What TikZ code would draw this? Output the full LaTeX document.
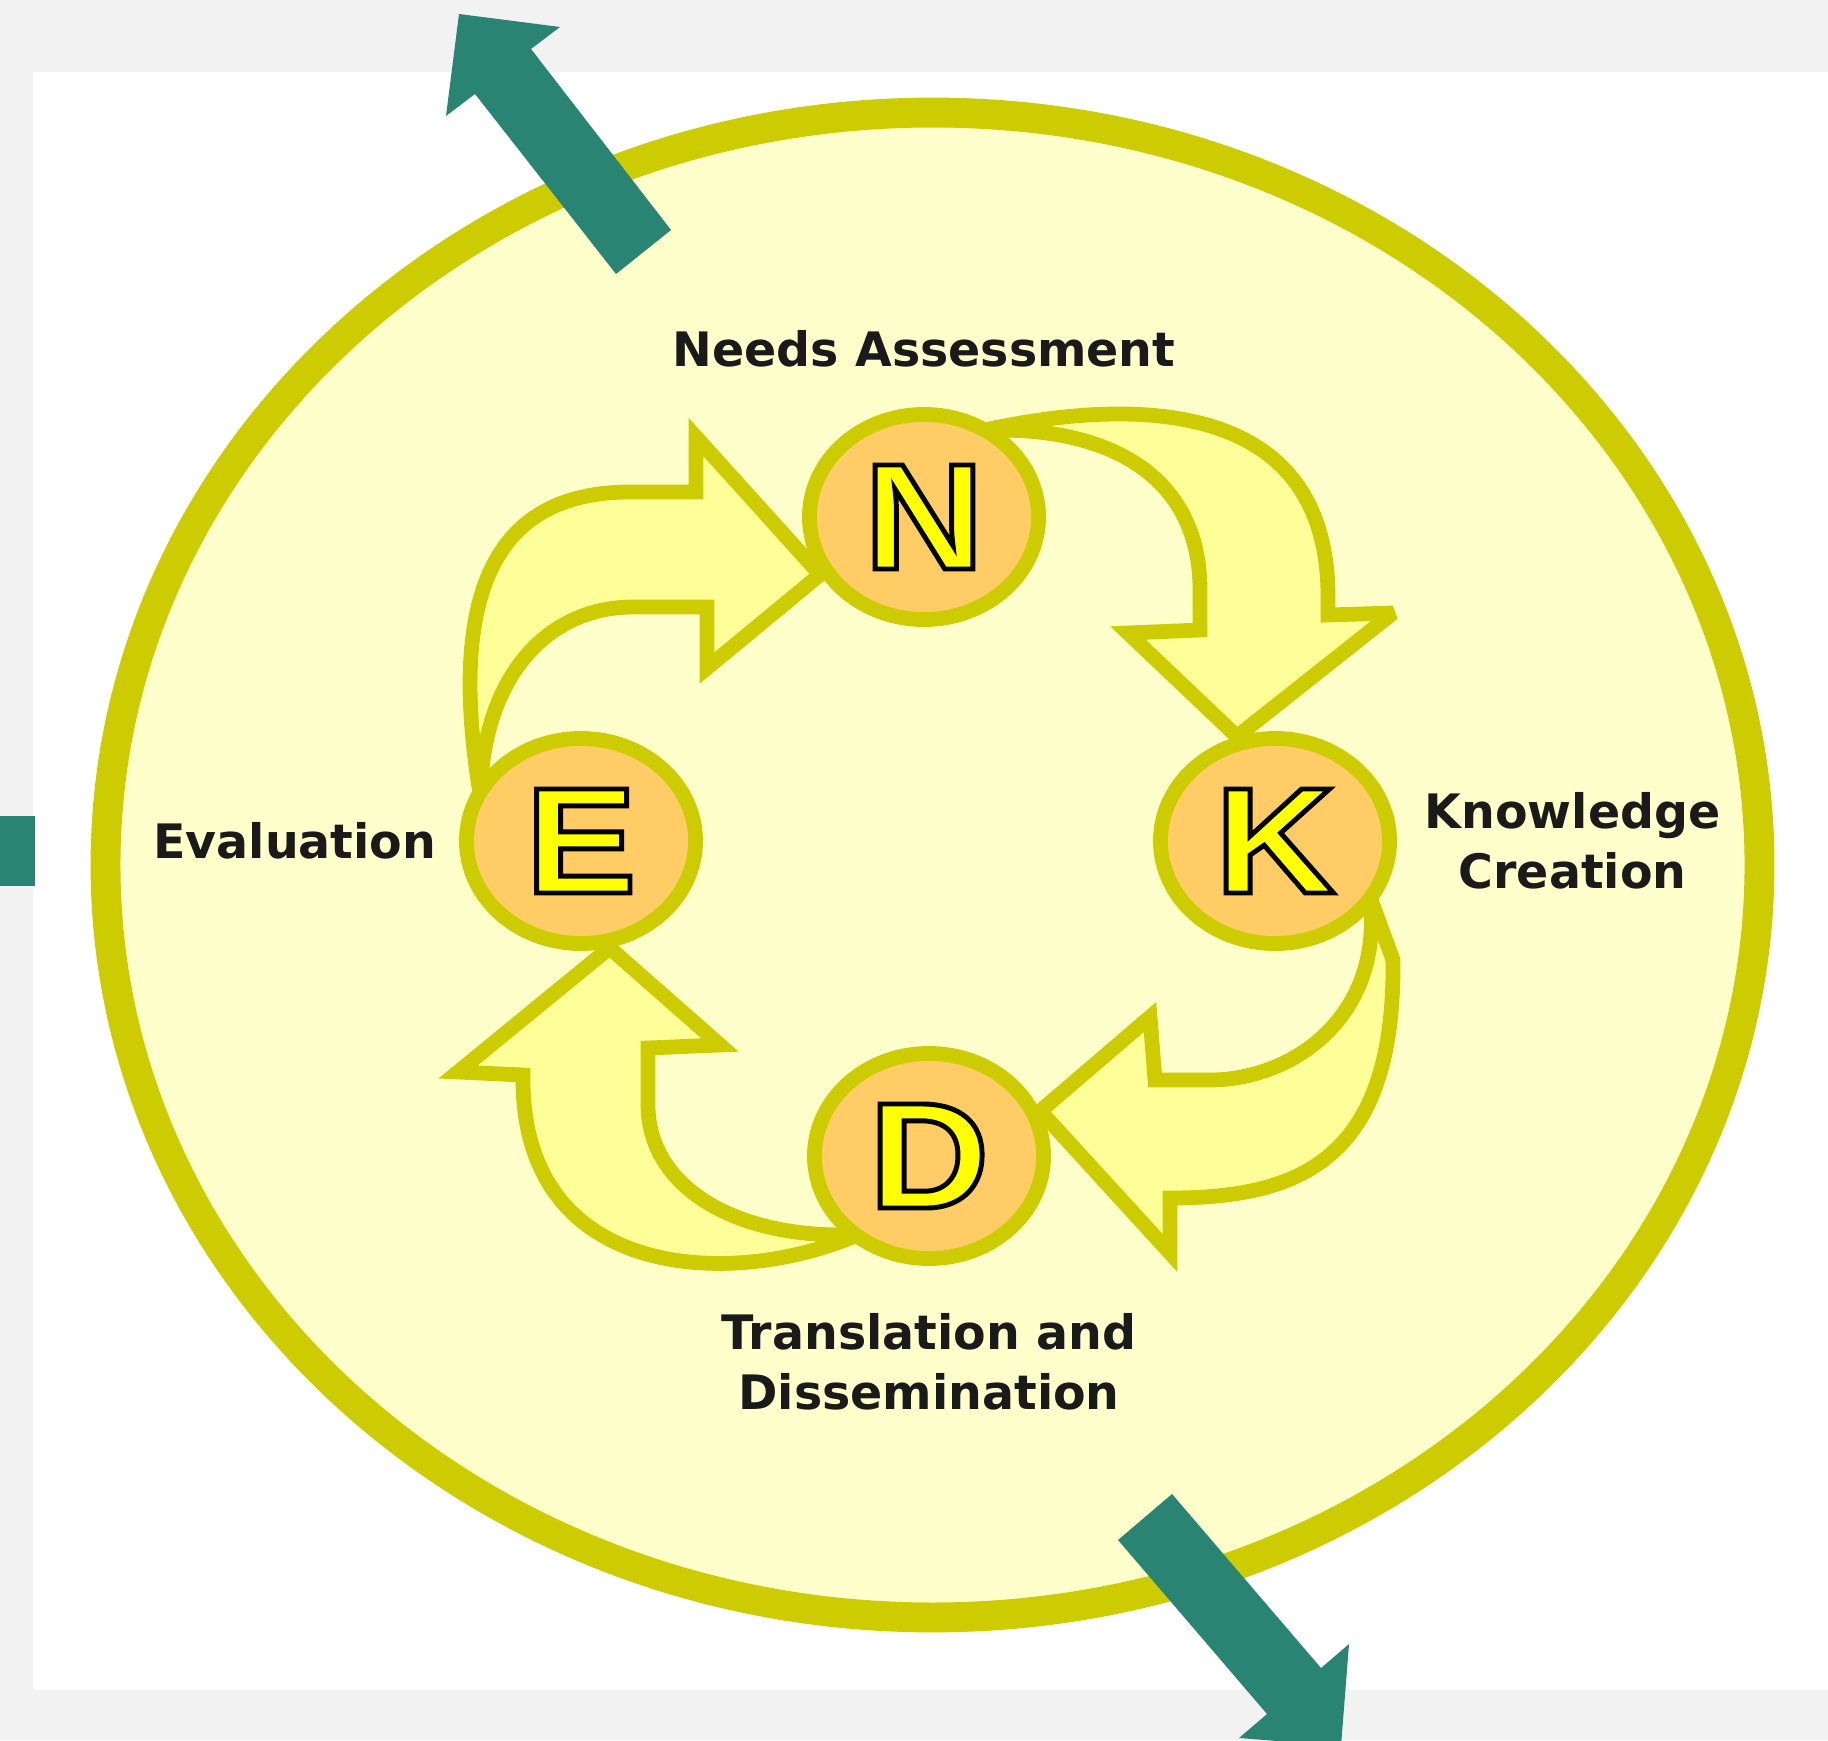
\documentclass[tikz,border=0pt]{standalone}
\usepackage{fontspec}
\setmainfont{DejaVu Sans}
\newfontfamily\letterfont{Liberation Sans}[FakeStretch=1.1]
\usetikzlibrary{shapes.geometric,positioning,calc}

\definecolor{backgray}{HTML}{F2F2F2}
\definecolor{pale}{HTML}{FFFFCC}
\definecolor{rim}{HTML}{CCCC00}
\definecolor{band}{HTML}{FFFF99}
\definecolor{disc}{HTML}{FFCC66}
\definecolor{lettercol}{HTML}{FFFF00}
\definecolor{ink}{HTML}{1A1A1A}
\definecolor{tealgreen}{HTML}{2A8474}

\pgfdeclarelayer{back}
\pgfdeclarelayer{mid}
\pgfsetlayers{back,mid,main}

\newcommand{\outl}[1]{\special{pdf:literal direct 0 G 1.4 w 2 Tr}#1\special{pdf:literal direct 0 Tr}}

\begin{document}
\begin{tikzpicture}[x=0.01cm, y=-0.01cm,
    main/.style = {draw=rim, line width=4.2pt, fill=disc, ellipse, inner sep=0pt,
      minimum width=2.29cm, minimum height=2.05cm, text=lettercol,
      font=\letterfont\bfseries\fontsize{43}{43}\selectfont},
    lbl/.style = {inner sep=0pt, align=center, text=ink,
      font=\bfseries\fontsize{13.5}{17}\selectfont},
    blk/.style = {draw=rim, line width=4.2pt, fill=band, line join=miter, miter limit=3},
    pointer/.style = {fill=tealgreen}]
  \useasboundingbox (0,0) rectangle (1828,1740);
  \begin{pgfonlayer}{back}
    \fill[backgray] (0,0) rectangle (1828,1740);
    \fill[white] (33,72) rectangle (1828,1690);
    \draw[rim, line width=8.5pt, fill=pale] (932.5,865) ellipse [x radius=8.265cm, y radius=7.52cm];
    \fill[pointer] (459,14) -- (560,27) -- (531,49) -- (671,230) -- (616,274) -- (475,94) -- (446,116) -- cycle;
    \fill[pointer] (1341,1746) -- (1239,1738) -- (1267,1714) -- (1118,1540) -- (1172,1494) -- (1321,1668) -- (1349,1644) -- cycle;
    \fill[pointer] (0,816) rectangle (35,886);
  \end{pgfonlayer}

  \node[main] (n) at (924,517) {\outl{N}};
  \node[main] (k) at (1275,841) {\outl{K}};
  \node[main] (d) at (929,1156) {\outl{D}};
  \node[main] (e) at (581,841) {\outl{E}};

  \node[lbl] (needs) [above=0.39cm of n] {Needs Assessment};
  \node[lbl] (know) [right=0.27cm of k] {Knowledge\\Creation};
  \node[lbl] (transl) [below=0.47cm of d] {Translation and\\Dissemination};
  \node[lbl] (eval) [left=0.22cm of e] {Evaluation};

  \begin{pgfonlayer}{mid}
    \draw[blk] ($(e.center)!0.92!(e.156)$) .. controls (448,600) and (490,492) .. (630,492) -- (696,492) -- (696,437)
      -- (n.209) -- (707,668) -- (707,607) -- (633,607) .. controls (545,607) and (482,680) .. ($(e.center)!0.92!(e.156)$) -- cycle;
    \draw[blk] ($(n.center)!0.92!(n.56)$) .. controls (1120,400) and (1330,390) .. (1328,600) -- (1328,615) -- (1393,613)
      -- (k.110) -- (1128,633) -- (1200,630) -- (1200,590) .. controls (1200,470) and (1100,425) .. ($(n.center)!0.92!(n.56)$) -- cycle;
    \draw[blk] ($(k.center)!0.92!(k.-30)$) -- (1393,960) .. controls (1395,1160) and (1300,1198) .. (1170,1198) -- (1170,1253)
      -- (d.22) -- (1150,1017) -- (1155,1080) -- (1213,1080) .. controls (1300,1078) and (1385,1010) .. ($(k.center)!0.92!(k.-30)$) -- cycle;
    \draw[blk] ($(d.center)!0.92!(d.228)$) .. controls (730,1290) and (520,1280) .. (523,1075) -- (458,1072)
      -- (e.-75) -- (720,1045) -- (648,1048) -- (648,1107) .. controls (650,1190) and (740,1240) .. ($(d.center)!0.92!(d.228)$) -- cycle;
  \end{pgfonlayer}
\end{tikzpicture}
\end{document}
